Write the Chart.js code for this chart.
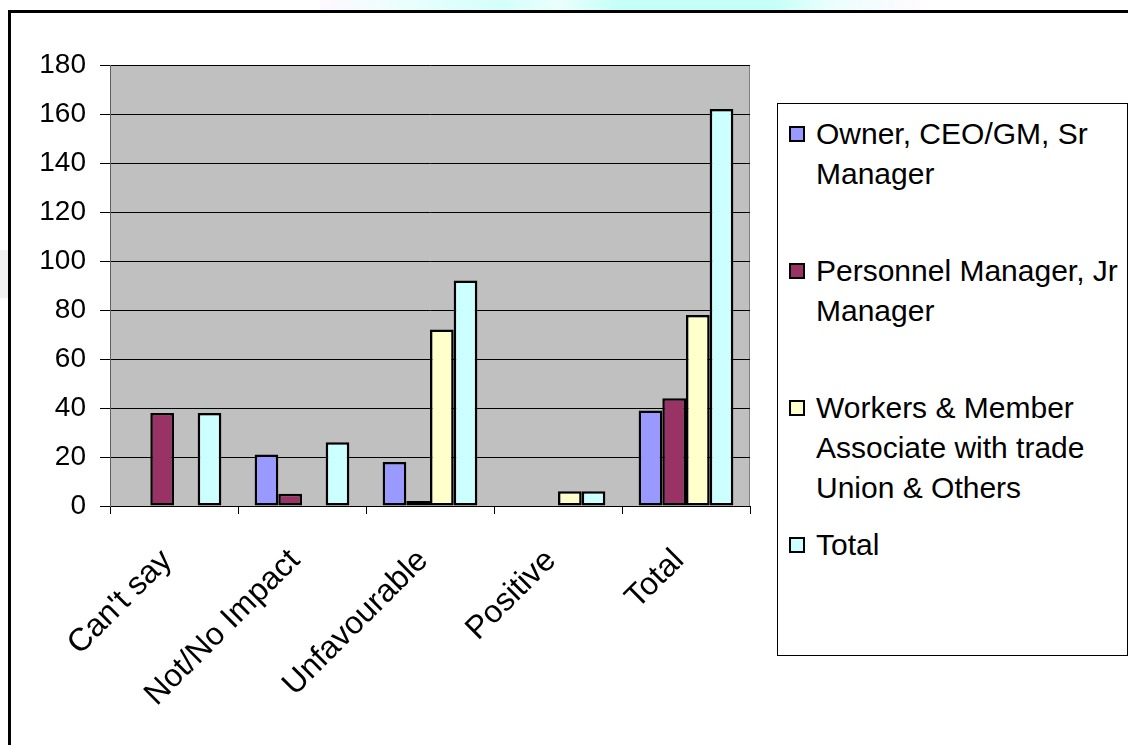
<!DOCTYPE html>
<html>
<head>
<meta charset="utf-8">
<script src="https://cdn.jsdelivr.net/npm/chart.js@4.4.1/dist/chart.umd.min.js"></script>
<style>
  html, body { margin: 0; padding: 0; background: #fff; overflow: hidden; }
  body { width: 1128px; height: 745px; position: relative; font-family: "Liberation Sans", Arial, sans-serif; }
  #topband {
    position: absolute; left: 320px; top: 0; width: 600px; height: 10px;
    background: linear-gradient(to right, #fff8fe 0%, #e8fffd 15%, #d4fffb 30%, #eafffd 40%,
      #c4fff8 50%, #c4fff8 75%, #eafffd 85%, #fffafe 100%);
  }
  #sideband { position: absolute; left: 0; top: 250px; width: 8px; height: 48px; background: #f2f2f2; }
  #frame {
    position: absolute; left: 8px; top: 10px; width: 1300px; height: 900px;
    border-left: 3px solid #000; border-top: 3px solid #000;
  }
  #chart { position: absolute; left: 0; top: 0; }
  #legend {
    position: absolute; left: 777px; top: 103px; width: 351px; height: 553px;
    border: 1px solid #000; box-sizing: border-box; background: #fff;
  }
  .item { position: absolute; left: 0; width: 100%; }
  .swatch {
    position: absolute; left: 11px; top: 12px; width: 16px; height: 16px;
    border: 2px solid #000; box-sizing: border-box;
  }
  .label {
    position: absolute; left: 38px; top: 0; width: 312px;
    font-size: 30px; line-height: 40px; color: #000;
  }
</style>
</head>
<body>
<div id="topband"></div>
<div id="sideband"></div>
<div id="frame"></div>
<canvas id="chart" width="1128" height="745"></canvas>
<div id="legend"></div>

<script>
// ============================================================
// DATA
// ============================================================
const categories = ["Can't say", 'Not/No Impact', 'Unfavourable', 'Positive', 'Total'];
const seriesNames = [
    'Owner, CEO/GM, Sr Manager',
    'Personnel Manager, Jr Manager',
    'Workers & Member Associate with trade Union & Others',
    'Total'
];
const ownerValues = [0, 21, 18, 0, 39];
const personnelValues = [38, 5, 2, 0, 44];
const workersValues = [0, 0, 72, 6, 78];
const totalValues = [38, 26, 92, 6, 162];
const seriesColors = ['#9999FF', '#993366', '#FFFFCC', '#CCFFFF'];
const yMin = 0;
const yMax = 180;
const yStep = 20;

const fontFamily = '"Liberation Sans", Arial, sans-serif';
const seriesValues = [ownerValues, personnelValues, workersValues, totalValues];

// ============================================================
// PLOT BACKGROUND
// ============================================================
const plotBackground = {
    id: 'plotBackground',
    beforeDraw(chart) {
        const { ctx, chartArea: a } = chart;
        ctx.save();
        ctx.fillStyle = '#C0C0C0';
        ctx.fillRect(a.left, a.top, a.right - a.left, a.bottom - a.top);
        ctx.strokeStyle = '#808080';
        ctx.lineWidth = 1;
        ctx.beginPath();
        ctx.moveTo(a.right - 0.5, a.top);
        ctx.lineTo(a.right - 0.5, a.bottom);
        ctx.stroke();
        ctx.restore();
    }
};

// ============================================================
// CHART
// ============================================================
const chart = new Chart(document.getElementById('chart'), {
    type: 'bar',
    data: {
        labels: categories,
        datasets: seriesNames.map((name, i) => ({
            label: name,
            data: seriesValues[i],
            backgroundColor: seriesColors[i],
            borderColor: '#000',
            borderWidth: 2.5,
            borderSkipped: false,
            categoryPercentage: 0.74,
            barPercentage: 1.0
        }))
    },
    options: {
        responsive: false,
        animation: false,
        layout: { padding: { left: 12, top: 65, right: 378, bottom: 0 } },
        plugins: { legend: { display: false }, tooltip: { enabled: false } },
        scales: {
            x: {
                grid: { display: true, drawOnChartArea: false, offset: true, tickLength: 8, tickColor: '#000' },
                border: { color: '#000', width: 1 },
                ticks: {
                    color: '#000',
                    font: { family: fontFamily, size: 32 },
                    minRotation: 45,
                    maxRotation: 45,
                    autoSkip: false,
                    labelOffset: -7,
                    padding: 28
                },
                afterFit(scale) { scale.height = 239; }
            },
            y: {
                min: yMin,
                max: yMax,
                ticks: {
                    stepSize: yStep,
                    color: '#000',
                    font: { family: fontFamily, size: 28 },
                    padding: 14
                },
                grid: { color: '#000', lineWidth: 1, tickLength: 10, tickColor: '#000' },
                border: { color: '#606060', width: 1 },
                afterFit(scale) { scale.width = 98; }
            }
        }
    },
    plugins: [plotBackground]
});

// ============================================================
// LEGEND
// ============================================================
const legendEl = document.getElementById('legend');
chart.data.datasets.forEach((ds, i) => {
    const item = document.createElement('div');
    item.className = 'item';
    item.style.top = (10 + i * 137) + 'px';
    const sw = document.createElement('div');
    sw.className = 'swatch';
    sw.style.background = ds.backgroundColor;
    const txt = document.createElement('div');
    txt.className = 'label';
    txt.textContent = ds.label;
    item.appendChild(sw);
    item.appendChild(txt);
    legendEl.appendChild(item);
});
</script>
</body>
</html>
